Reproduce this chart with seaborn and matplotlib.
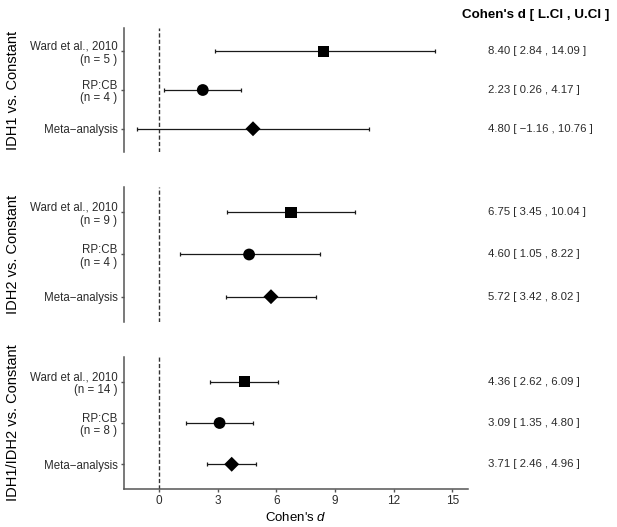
import numpy as np
import pandas as pd
import matplotlib
matplotlib.use("Agg")
import matplotlib.pyplot as plt
import matplotlib.transforms as mtransforms
import seaborn as sns

# ---------------- data ----------------
comparisons = ["IDH1 vs. Constant", "IDH2 vs. Constant", "IDH1/IDH2 vs. Constant"]
studies = ["Ward et al., 2010", "RP:CB", "Meta\u2212analysis"]
n_ward = [5, 9, 14]
n_rpcb = [4, 4, 8]
d_vals = [[8.40, 2.23, 4.80], [6.75, 4.60, 5.72], [4.36, 3.09, 3.71]]
lci_vals = [[2.84, 0.26, -1.16], [3.45, 1.05, 3.42], [2.62, 1.35, 2.46]]
uci_vals = [[14.09, 4.17, 10.76], [10.04, 8.22, 8.02], [6.09, 4.80, 4.96]]
x_ticks = [0, 3, 6, 9, 12, 15]
header = "Cohen's d [ L.CI , U.CI ]"

# ---------------- style ----------------
sns.set_theme(style="ticks")
plt.rcParams["font.family"] = ["Liberation Sans", "DejaVu Sans"]
plt.rcParams["mathtext.fontset"] = "custom"
plt.rcParams["mathtext.it"] = "Liberation Sans:italic"
plt.rcParams["mathtext.rm"] = "Liberation Sans"

W, H = 617, 527
fig = plt.figure(figsize=(W / 100, H / 100), dpi=100)

spine_col = "#555555"
text_col = "#2b2b2b"

# panel extents in pixels (top, bottom)
panels_px = [(28, 152), (187, 322), (357, 489)]
left_px, right_px = 124, 468

markers = {studies[0]: "s", studies[1]: "o", studies[2]: "D"}
sizes = {studies[0]: 68, studies[1]: 72, studies[2]: 58}

def fmt(v):
    return f"{v:.2f}".replace("-", "\u2212")

for i, comp in enumerate(comparisons):
    top, bot = panels_px[i]
    ax = fig.add_axes([left_px / W, 1 - bot / H, (right_px - left_px) / W, (bot - top) / H])
    df = pd.DataFrame({
        "study": studies,
        "d": d_vals[i],
        "lci": lci_vals[i],
        "uci": uci_vals[i],
        "pos": np.arange(len(studies)),
    })
    ax.axvline(0, color="#333333", lw=1.0, ls=(0, (3, 1.6)), zorder=1)
    ax.errorbar(df["d"], df["pos"],
                xerr=[df["d"] - df["lci"], df["uci"] - df["d"]],
                fmt="none", ecolor="#1a1a1a", elinewidth=0.9,
                capsize=1.7, capthick=0.9, zorder=2)
    sns.scatterplot(data=df, x="d", y="pos", style="study", markers=markers,
                    size="study", sizes=sizes, color="black", edgecolor="none",
                    linewidth=0, legend=False, ax=ax, zorder=3)
    ax.set_xlim(-1.8, 15.8)
    ax.set_ylim(2.6, -0.6)
    labels = [f"{studies[0]}\n(n = {n_ward[i]} )", f"{studies[1]}\n(n = {n_rpcb[i]} )", studies[2]]
    ax.set_yticks(df["pos"])
    ax.set_yticklabels(labels, fontsize=8.3, color=text_col, linespacing=1.1)
    ax.set_ylabel("")
    ax.tick_params(axis="y", length=2.2, width=1, color=spine_col, pad=2.5)
    for s in ["top", "right"]:
        ax.spines[s].set_visible(False)
    ax.spines["left"].set_color(spine_col)
    ax.spines["left"].set_linewidth(1.1)
    if i < 2:
        ax.spines["bottom"].set_visible(False)
        ax.set_xticks([])
        ax.set_xlabel("")
    else:
        ax.spines["bottom"].set_color(spine_col)
        ax.spines["bottom"].set_linewidth(1.1)
        ax.set_xticks(x_ticks)
        ax.set_xticklabels([str(t) for t in x_ticks], fontsize=8.5, color=text_col)
        ax.tick_params(axis="x", length=2.2, width=1, color=spine_col, pad=2)
        ax.set_xlabel("Cohen's $d$", fontsize=9.5, color="black", labelpad=3)
    # comparison label
    fig.text(13 / W, 1 - (top + bot) / 2 / H, comp, rotation=90, ha="center", va="center",
             fontsize=10.5, color="black")
    # right-hand text column
    trans = mtransforms.blended_transform_factory(fig.transFigure, ax.transData)
    for j in range(len(studies)):
        ax.text(488 / W, df["pos"][j],
                f"{fmt(df['d'][j])} [ {fmt(df['lci'][j])} , {fmt(df['uci'][j])} ]",
                transform=trans, ha="left", va="center", fontsize=8.2, color=text_col,
                clip_on=False)

fig.text(462 / W, 1 - 15 / H, header, ha="left", va="center", fontsize=9.6,
         fontweight="bold", color="black")

fig.savefig("out.png", dpi=100, facecolor="white")
